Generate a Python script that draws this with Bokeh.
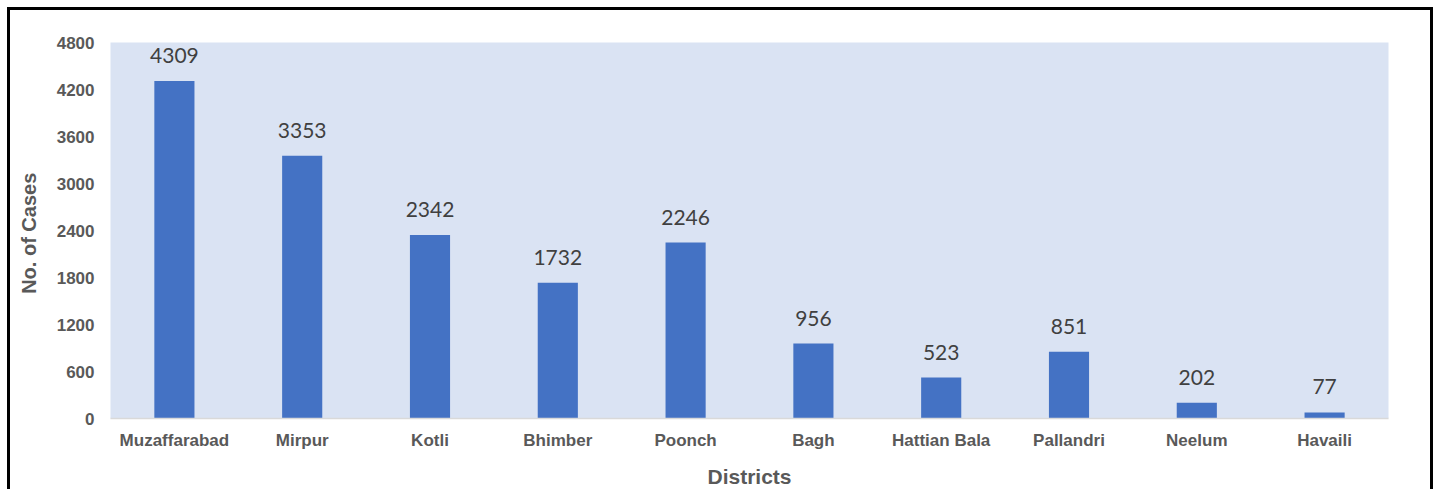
from bokeh.plotting import figure
from bokeh.models import ColumnDataSource, Range1d, FixedTicker, LabelSet, NumeralTickFormatter
from bokeh.core.properties import value
from bokeh.embed import file_html
from bokeh.resources import INLINE

districts = ["Muzaffarabad", "Mirpur", "Kotli", "Bhimber", "Poonch", "Bagh",
             "Hattian Bala", "Pallandri", "Neelum", "Havaili"]
cases = [4309, 3353, 2342, 1732, 2246, 956, 523, 851, 202, 77]
y_ticks = [0, 600, 1200, 1800, 2400, 3000, 3600, 4200, 4800]

source = ColumnDataSource(dict(district=districts, cases=cases,
                               label=[str(c) for c in cases]))

p = figure(x_range=districts, y_range=Range1d(0, 4800),
           width=1426, height=482, output_backend="svg", toolbar_location=None,
           min_border_left=100, min_border_right=48, min_border_top=32, min_border_bottom=74,
           styles={"margin-left": "7px", "margin-top": "7px",
                   "border-top": "3px solid black", "border-left": "3px solid black",
                   "border-right": "3px solid black"})

p.background_fill_color = "#DAE3F3"
p.border_fill_color = "white"
p.outline_line_color = None
p.grid.visible = False

p.vbar(x="district", top="cases", width=0.314, source=source,
       fill_color="#4472C4", line_color=None)

labels = LabelSet(x="district", y="cases", text="label", source=source,
                  text_align="center", text_baseline="alphabetic", y_offset=18,
                  text_font=value("Lato"), text_font_size=value("21px"),
                  text_color=value("#404040"))
p.add_layout(labels)

p.yaxis.ticker = FixedTicker(ticks=y_ticks)
p.yaxis.formatter = NumeralTickFormatter(format="0")
for ax in (p.xaxis, p.yaxis):
    ax.major_tick_line_color = None
    ax.minor_tick_line_color = None
    ax.major_label_text_font = "Liberation Sans"
    ax.major_label_text_font_style = "bold"
    ax.major_label_text_font_size = "17px"
    ax.major_label_text_color = "#595959"
    ax.axis_label_text_font = "Liberation Sans"
    ax.axis_label_text_font_style = "bold"
    ax.axis_label_text_color = "#595959"
p.yaxis.axis_line_color = None
p.xaxis.axis_line_color = "#D9D9D9"
p.xaxis.axis_line_width = 1.5
p.yaxis.major_label_standoff = 10
p.xaxis.major_label_standoff = 6
p.xaxis.axis_label = "Districts"
p.xaxis.axis_label_text_font_size = "21px"
p.xaxis.axis_label_standoff = 12
p.yaxis.axis_label = "No.  of Cases"
p.yaxis.axis_label_text_font_size = "20px"
p.yaxis.axis_label_standoff = 14

open("out.html", "w").write(file_html(p, INLINE))
